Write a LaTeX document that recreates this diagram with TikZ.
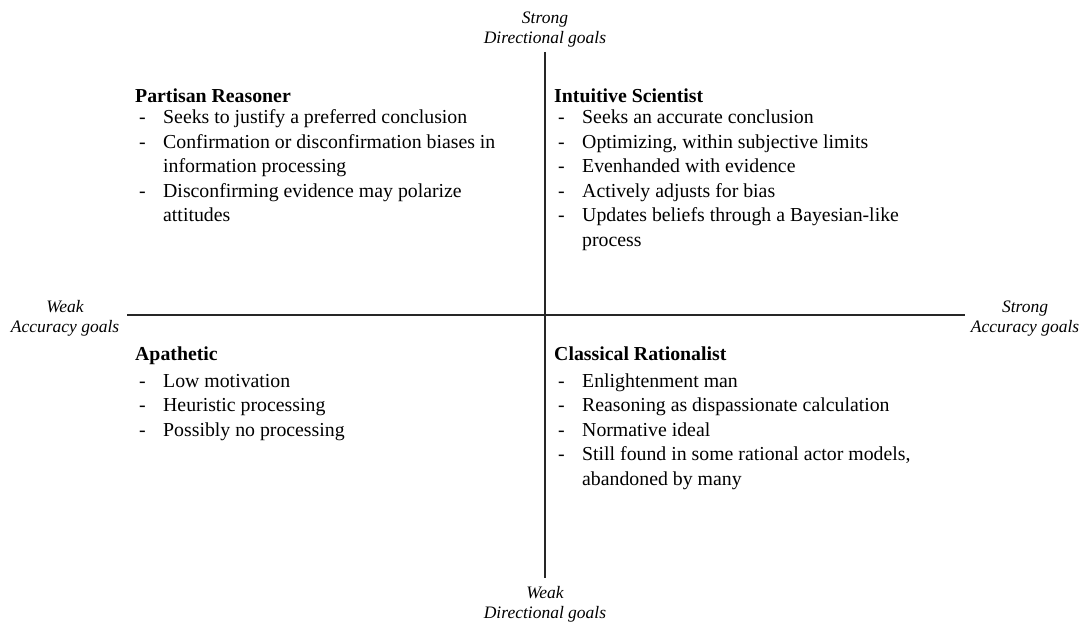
\documentclass[tikz,border=0pt]{standalone}
\usepackage{fontspec}
\setmainfont{Liberation Serif}
\begin{document}
\begin{tikzpicture}[x=1pt,y=-1pt,
  ln/.style={anchor=base west,inner sep=0pt,font=\fontsize{19.8}{22}\selectfont},
  ttl/.style={ln,font=\fontsize{19.8}{22}\selectfont\bfseries},
  dsh/.style={ln},
  ax/.style={anchor=base,inner sep=0pt,font=\fontsize{17.5}{20}\selectfont\itshape},
  axis/.style={draw=black!85,line width=1.3pt}]
\useasboundingbox (0,0) rectangle (1081,623);
% axes
\coordinate (vt) at (545,52);
\coordinate (vb) at (545,578);
\coordinate (hl) at (127,315);
\coordinate (hr) at (965,315);
\draw[axis] (vt) -- (vb);
\draw[axis] (hl) -- (hr);
% axis labels
\node[ax] (t1) at (545,23.5) {Strong};
\node[ax] (t2) at (545,44) {Directional goals};
\node[ax] (l1) at (65,312) {Weak};
\node[ax] (l2) at (65,332.5) {Accuracy goals};
\node[ax] (r1) at (1025,312) {Strong};
\node[ax] (r2) at (1025,332.5) {Accuracy goals};
\node[ax] (b1) at (545,598.5) {Weak};
\node[ax] (b2) at (545,618.5) {Directional goals};
% Partisan Reasoner
\node[ttl] (prt) at (135,102.5) {Partisan Reasoner};
\node[dsh] (prd1) at (139,123.5) {-};
\node[ln] (pr1) at (163,123.5) {Seeks to justify a preferred conclusion};
\node[dsh] (prd2) at (139,148) {-};
\node[ln] (pr2) at (163,148) {Confirmation or disconfirmation biases in};
\node[ln] (pr3) at (163,172.5) {information processing};
\node[dsh] (prd4) at (139,197) {-};
\node[ln] (pr4) at (163,197) {Disconfirming evidence may polarize};
\node[ln] (pr5) at (163,221.5) {attitudes};
% Intuitive Scientist
\node[ttl] (ist) at (554,102.5) {Intuitive Scientist};
\node[dsh] (isd1) at (558,123.5) {-};
\node[ln] (is1) at (582,123.5) {Seeks an accurate conclusion};
\node[dsh] (isd2) at (558,148) {-};
\node[ln] (is2) at (582,148) {Optimizing, within subjective limits};
\node[dsh] (isd3) at (558,172.5) {-};
\node[ln] (is3) at (582,172.5) {Evenhanded with evidence};
\node[dsh] (isd4) at (558,197) {-};
\node[ln] (is4) at (582,197) {Actively adjusts for bias};
\node[dsh] (isd5) at (558,221.5) {-};
\node[ln] (is5) at (582,221.5) {Updates beliefs through a Bayesian-like};
\node[ln] (is6) at (582,246) {process};
% Apathetic
\node[ttl] (apt) at (135,360.5) {Apathetic};
\node[dsh] (apd1) at (139,387) {-};
\node[ln] (ap1) at (163,387) {Low motivation};
\node[dsh] (apd2) at (139,411.5) {-};
\node[ln] (ap2) at (163,411.5) {Heuristic processing};
\node[dsh] (apd3) at (139,436) {-};
\node[ln] (ap3) at (163,436) {Possibly no processing};
% Classical Rationalist
\node[ttl] (crt) at (554,360.5) {Classical Rationalist};
\node[dsh] (crd1) at (558,387) {-};
\node[ln] (cr1) at (582,387) {Enlightenment man};
\node[dsh] (crd2) at (558,411.5) {-};
\node[ln] (cr2) at (582,411.5) {Reasoning as dispassionate calculation};
\node[dsh] (crd3) at (558,436) {-};
\node[ln] (cr3) at (582,436) {Normative ideal};
\node[dsh] (crd4) at (558,460.5) {-};
\node[ln] (cr4) at (582,460.5) {Still found in some rational actor models,};
\node[ln] (cr5) at (582,485) {abandoned by many};
\end{tikzpicture}
\end{document}
